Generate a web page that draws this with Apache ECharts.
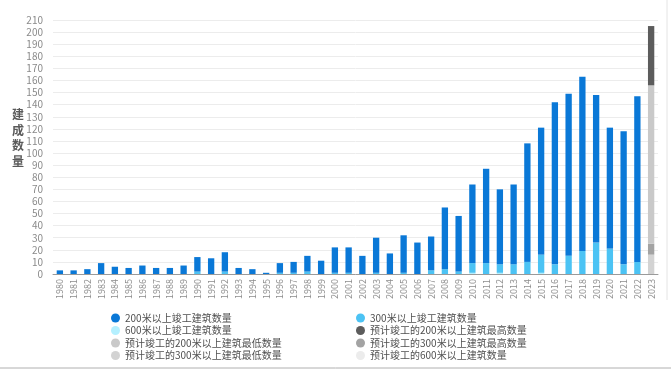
<!DOCTYPE html>
<html>
<head>
<meta charset="utf-8">
<script src="https://cdn.jsdelivr.net/npm/echarts@6/dist/echarts.min.js"></script>
<style>
  html, body { margin: 0; padding: 0; background: #fff; }
  #chart { width: 671px; height: 370px; }
</style>
</head>
<body>
<div id="chart"></div>
<script>
// 年份
const years = ['1980','1981','1982','1983','1984','1985','1986','1987','1988','1989',
  '1990','1991','1992','1993','1994','1995','1996','1997','1998','1999',
  '2000','2001','2002','2003','2004','2005','2006','2007','2008','2009',
  '2010','2011','2012','2013','2014','2015','2016','2017','2018','2019',
  '2020','2021','2022','2023'];

// 200米以上竣工（不含300米以上部分），堆叠段
const h200 = [3,3,4,9,6,5,7,5,5,7, 12,13,16,5,4,1,8,9,13,11, 21,21,15,29,17,31,26,28,51,46, 65,78,62,66,98,105,134,134,144,122, 100,110,137, null];
// 300米以上竣工
const h300 = [0,0,0,0,0,0,0,0,0,0, 2,0,2,0,0,0,1,1,2,0, 1,1,0,1,0,1,0,3,4,2, 8,9,7,8,10,15,8,15,19,26, 21,8,10, null];
// 600米以上竣工
const h600 = [0,0,0,0,0,0,0,0,0,0, 0,0,0,0,0,0,0,0,0,0, 0,0,0,0,0,0,0,0,0,0, 1,0,1,0,0,1,0,0,0,0, 0,0,0, null];

// 2023预计（堆叠段，自下而上）
const pred300Min = 16;   // 0 - 16
const pred300Max = 9;    // 16 - 25
const pred200Min = 131;  // 25 - 156
const pred200Max = 49;   // 156 - 205
const pred600 = 0;

const names = ['200米以上竣工建筑数量', '300米以上竣工建筑数量', '600米以上竣工建筑数量',
  '预计竣工的200米以上建筑最高数量', '预计竣工的200米以上建筑最低数量', '预计竣工的300米以上建筑最高数量',
  '预计竣工的300米以上建筑最低数量', '预计竣工的600米以上建筑数量'];

const colors = {
  c200: '#0a78d7', c300: '#4cc3f4', c600: '#b4f0ff',
  p200max: '#5c5c5c', p200min: '#c9c9c9', p300max: '#a3a3a3', p300min: '#d3d3d3', p600: '#ececec'
};

// 只在2023有值
function only2023(v) {
  return years.map(y => (y === '2023' ? v : null));
}

const myChart = echarts.init(document.getElementById('chart'));
const font = 'Noto Sans CJK SC';

function bar(name, data, color) {
  return {
    name: name, type: 'bar', stack: 'total', data: data, barWidth: '46%',
    itemStyle: { color: color }, emphasis: { disabled: true }
  };
}

const legendText = { fontSize: 10, color: '#505050', fontFamily: font };

const option = {
  animation: false,
  textStyle: { fontFamily: font },
  grid: { left: 53, right: 13, top: 20, bottom: 96 },
  legend: [
    {
      left: 106, top: 308, orient: 'vertical', icon: 'circle',
      itemWidth: 9, itemHeight: 9, itemGap: 2.5,
      data: [names[0], names[2], names[4], names[6]],
      textStyle: legendText
    },
    {
      left: 351, top: 308, orient: 'vertical', icon: 'circle',
      itemWidth: 9, itemHeight: 9, itemGap: 2.5,
      data: [names[1], names[3], names[5], names[7]],
      textStyle: legendText
    }
  ],
  xAxis: {
    type: 'category', data: years,
    axisLine: { lineStyle: { color: '#9a9a9a' } },
    axisTick: { show: false },
    axisLabel: { rotate: 90, fontSize: 9, color: '#8c8c8c', margin: 5, interval: 0 }
  },
  yAxis: {
    type: 'value', min: 0, max: 210, interval: 10,
    axisLabel: { fontSize: 10, color: '#8a8a8a', margin: 10 },
    splitLine: { lineStyle: { color: '#ececec' } },
    axisLine: { show: false }, axisTick: { show: false }
  },
  series: [
    bar(names[2], h600, colors.c600),
    bar(names[1], h300, colors.c300),
    bar(names[0], h200, colors.c200),
    bar(names[7], only2023(pred600), colors.p600),
    bar(names[6], only2023(pred300Min), colors.p300min),
    bar(names[5], only2023(pred300Max), colors.p300max),
    bar(names[4], only2023(pred200Min), colors.p200min),
    bar(names[3], only2023(pred200Max), colors.p200max)
  ],
  graphic: [
    // y轴标题
    {
      type: 'text', left: 12, top: 107,
      style: { text: '建\n成\n数\n量', font: 'bold 12px "Noto Sans CJK SC"', fill: '#5a5a5a', lineHeight: 15.5 }
    },
    { type: 'line', shape: { x1: 667, y1: 0, x2: 667, y2: 300 }, style: { stroke: '#e4e4e4', lineWidth: 1 } },
    { type: 'line', shape: { x1: 0, y1: 368, x2: 671, y2: 368 }, style: { stroke: '#b0b0b0', lineWidth: 1 } }
  ]
};

myChart.setOption(option);
</script>
</body>
</html>
